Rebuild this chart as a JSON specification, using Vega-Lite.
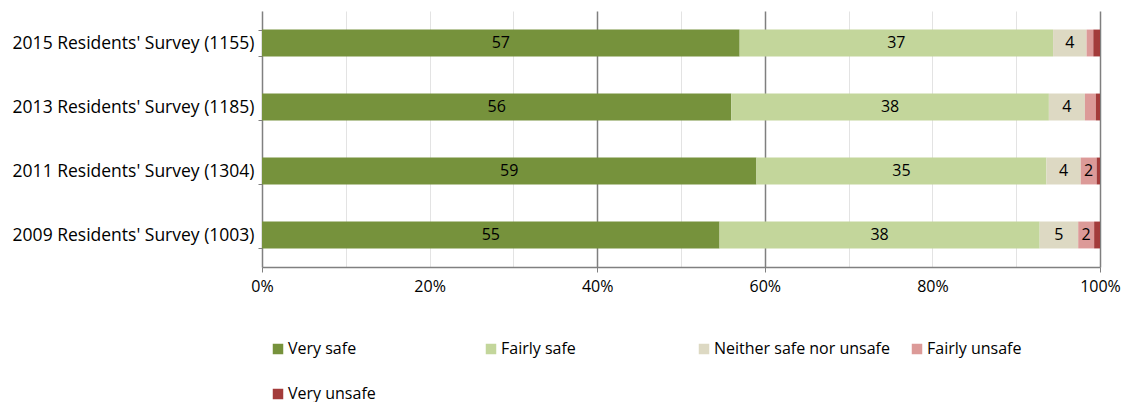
{
  "$schema": "https://vega.github.io/schema/vega-lite/v6.json",
  "width": 838,
  "height": 256,
  "padding": {"left": 12, "top": 2, "right": 33, "bottom": 0},
  "background": "white",
  "config": {
    "font": "Open Sans",
    "view": {"stroke": null}
  },
  "data": {
    "values": [
      {"survey": "2015 Residents' Survey (1155)", "response": "Very safe", "k": 1, "pct": 57.0},
      {"survey": "2015 Residents' Survey (1155)", "response": "Fairly safe", "k": 2, "pct": 37.4},
      {"survey": "2015 Residents' Survey (1155)", "response": "Neither safe nor unsafe", "k": 3, "pct": 4.0},
      {"survey": "2015 Residents' Survey (1155)", "response": "Fairly unsafe", "k": 4, "pct": 0.8},
      {"survey": "2015 Residents' Survey (1155)", "response": "Very unsafe", "k": 5, "pct": 0.8},
      {"survey": "2013 Residents' Survey (1185)", "response": "Very safe", "k": 1, "pct": 56.0},
      {"survey": "2013 Residents' Survey (1185)", "response": "Fairly safe", "k": 2, "pct": 37.9},
      {"survey": "2013 Residents' Survey (1185)", "response": "Neither safe nor unsafe", "k": 3, "pct": 4.3},
      {"survey": "2013 Residents' Survey (1185)", "response": "Fairly unsafe", "k": 4, "pct": 1.3},
      {"survey": "2013 Residents' Survey (1185)", "response": "Very unsafe", "k": 5, "pct": 0.5},
      {"survey": "2011 Residents' Survey (1304)", "response": "Very safe", "k": 1, "pct": 59.0},
      {"survey": "2011 Residents' Survey (1304)", "response": "Fairly safe", "k": 2, "pct": 34.6},
      {"survey": "2011 Residents' Survey (1304)", "response": "Neither safe nor unsafe", "k": 3, "pct": 4.1},
      {"survey": "2011 Residents' Survey (1304)", "response": "Fairly unsafe", "k": 4, "pct": 1.9},
      {"survey": "2011 Residents' Survey (1304)", "response": "Very unsafe", "k": 5, "pct": 0.4},
      {"survey": "2009 Residents' Survey (1003)", "response": "Very safe", "k": 1, "pct": 54.6},
      {"survey": "2009 Residents' Survey (1003)", "response": "Fairly safe", "k": 2, "pct": 38.2},
      {"survey": "2009 Residents' Survey (1003)", "response": "Neither safe nor unsafe", "k": 3, "pct": 4.6},
      {"survey": "2009 Residents' Survey (1003)", "response": "Fairly unsafe", "k": 4, "pct": 1.9},
      {"survey": "2009 Residents' Survey (1003)", "response": "Very unsafe", "k": 5, "pct": 0.7}
    ]
  },
  "transform": [
    {"stack": "pct", "groupby": ["survey"], "sort": [{"field": "k", "order": "ascending"}], "as": ["v0", "v1"]},
    {"calculate": "(datum.v0 + datum.v1) / 2", "as": "mid"}
  ],
  "encoding": {
    "y": {
      "field": "survey",
      "type": "nominal",
      "sort": ["2015 Residents' Survey (1155)", "2013 Residents' Survey (1185)", "2011 Residents' Survey (1304)", "2009 Residents' Survey (1003)"],
      "scale": {"paddingInner": 0.58, "paddingOuter": 0.29},
      "axis": {
        "title": null,
        "labelFontSize": 17.5,
        "labelLimit": 400,
        "labelColor": "#000000",
        "labelPadding": 4,
        "domainColor": "#808080",
        "domainWidth": 1.5,
        "tickColor": "#808080",
        "tickSize": 4,
        "tickBand": "extent",
        "grid": false
      }
    }
  },
  "layer": [
    {
      "mark": {"type": "bar"},
      "encoding": {
        "x": {
          "field": "v0",
          "type": "quantitative",
          "scale": {"domain": [0, 100], "nice": false},
          "axis": {
            "title": null,
            "values": [0, 10, 20, 30, 40, 50, 60, 70, 80, 90, 100],
            "labelExpr": "datum.value % 20 === 0 ? datum.value + '%' : ''",
            "labelFontSize": 16,
            "labelColor": "#000000",
            "labelPadding": 6,
            "labelFlush": false,
            "domainColor": "#808080",
            "domainWidth": 1.5,
            "grid": true,
            "gridColor": {"condition": {"test": "datum.value === 40 || datum.value === 60 || datum.value === 100", "value": "#7f7f7f"}, "value": "#e3e3e3"},
            "gridWidth": {"condition": {"test": "datum.value === 40 || datum.value === 60 || datum.value === 100", "value": 1.5}, "value": 1},
            "tickColor": {"condition": {"test": "datum.value % 20 === 0 && datum.value !== 20 && datum.value !== 80", "value": "#7f7f7f"}, "value": "transparent"},
            "tickSize": 5
          }
        },
        "x2": {"field": "v1"},
        "color": {
          "field": "response",
          "type": "nominal",
          "sort": ["Very safe", "Fairly safe", "Neither safe nor unsafe", "Fairly unsafe", "Very unsafe"],
          "scale": {
            "domain": ["Very safe", "Fairly safe", "Neither safe nor unsafe", "Fairly unsafe", "Very unsafe"],
            "range": ["#76923c", "#c3d69b", "#ddd9c3", "#dc9a98", "#a33b3a"]
          },
          "legend": {
            "title": null,
            "orient": "bottom",
            "direction": "horizontal",
            "columns": 4,
            "gridAlign": "all",
            "columnPadding": 11,
            "rowPadding": 29,
            "symbolType": "square",
            "symbolSize": 110,
            "symbolStrokeWidth": 0,
            "symbolOffset": 8,
            "labelFontSize": 16,
            "labelLimit": 400,
            "labelColor": "#000000",
            "labelOffset": 2,
            "offset": 47
          }
        }
      }
    },
    {
      "transform": [{"filter": "datum.pct >= 1.5"}],
      "mark": {"type": "text", "fontSize": 16, "color": "#000000", "align": "center", "baseline": "middle"},
      "encoding": {
        "x": {"field": "mid", "type": "quantitative"},
        "text": {"field": "pct", "type": "quantitative", "format": ".0f"}
      }
    }
  ]
}
